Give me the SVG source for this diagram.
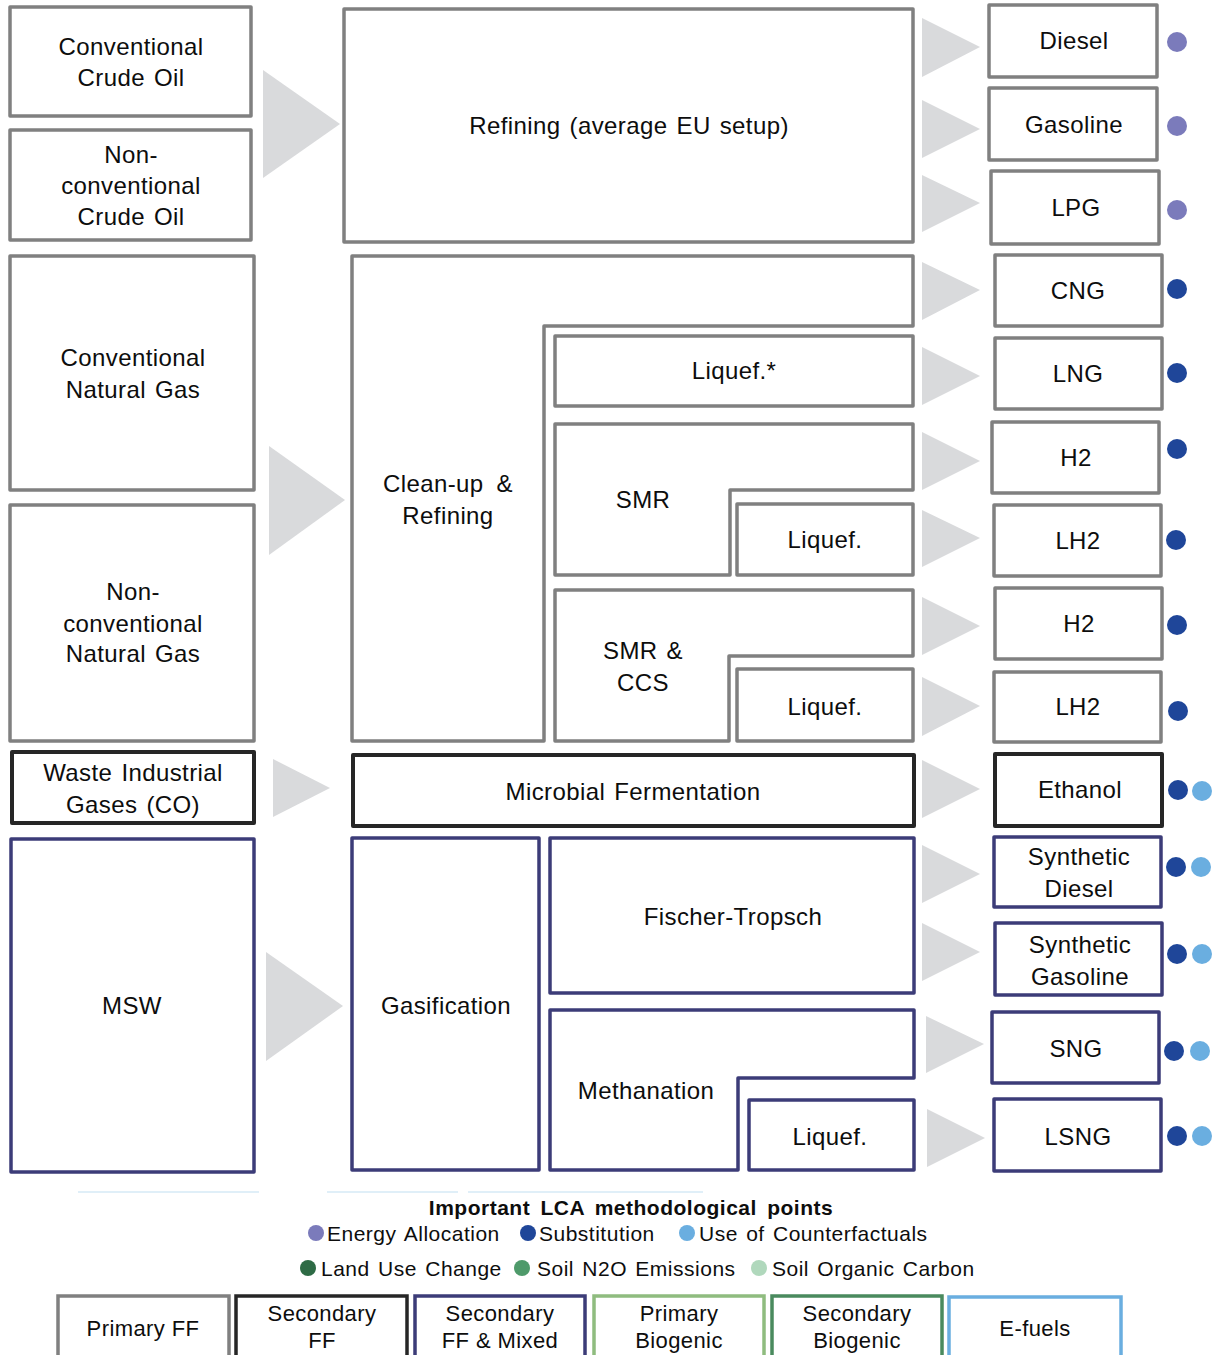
<svg xmlns="http://www.w3.org/2000/svg" width="1218" height="1355" viewBox="0 0 1218 1355">
<style>
text{font-family:"Liberation Sans",Arial,sans-serif;font-size:24px;fill:#0d0d0d;text-anchor:middle;letter-spacing:0.4px;word-spacing:2px}
.g{fill:#fff;stroke:#808080;stroke-width:3.5;stroke-linejoin:round}
.k{fill:#fff;stroke:#262626;stroke-width:4;stroke-linejoin:round}
.n{fill:#fff;stroke:#3c3c78;stroke-width:3.5;stroke-linejoin:round}
.tri{fill:#d9dadc}
.lg{font-size:21px;text-anchor:start;letter-spacing:0.5px;word-spacing:2px}
.lb{font-size:22px;word-spacing:0}
.pu{fill:#7b7bbb}.db{fill:#1f4699}.lb2{fill:#6aaee0}
</style>
<g id="connectors">
<polygon class="tri" points="263,70 340,124 263,178"/>
<polygon class="tri" points="269,446 345,500 269,555"/>
<polygon class="tri" points="273,759 330,788 273,817"/>
<polygon class="tri" points="266,952 343,1006 266,1061"/>
<polygon class="tri" points="922,18 980,47 922,77"/>
<polygon class="tri" points="922,100 980,129 922,158"/>
<polygon class="tri" points="922,175 980,203 922,232"/>
<polygon class="tri" points="922,262 980,290 922,320"/>
<polygon class="tri" points="922,347 980,376 922,405"/>
<polygon class="tri" points="922,432 980,461 922,490"/>
<polygon class="tri" points="922,510 980,538 922,567"/>
<polygon class="tri" points="922,597 980,626 922,655"/>
<polygon class="tri" points="922,677 980,706 922,736"/>
<polygon class="tri" points="922,760 980,789 922,818"/>
<polygon class="tri" points="922,845 980,874 922,903"/>
<polygon class="tri" points="922,923 980,952 922,981"/>
<polygon class="tri" points="926,1016 984,1044 926,1073"/>
<polygon class="tri" points="927,1109 985,1138 927,1167"/>
</g>
<g id="conv-crude"><rect class="g" x="10" y="7" width="241" height="109"/><text x="131" y="55">Conventional</text><text x="131" y="86">Crude Oil</text></g>
<g id="nonconv-crude"><rect class="g" x="10" y="130" width="241" height="110"/><text x="131" y="163">Non-</text><text x="131" y="194">conventional</text><text x="131" y="225">Crude Oil</text></g>
<g id="conv-gas"><rect class="g" x="10" y="256" width="244" height="234"/><text x="133" y="366">Conventional</text><text x="133" y="398">Natural Gas</text></g>
<g id="nonconv-gas"><rect class="g" x="10" y="505" width="244" height="236"/><text x="133" y="600">Non-</text><text x="133" y="632">conventional</text><text x="133" y="662">Natural Gas</text></g>
<g id="waste-gases"><rect class="k" x="12" y="752" width="242" height="71"/><text x="133" y="781">Waste Industrial</text><text x="133" y="813">Gases (CO)</text></g>
<g id="msw"><rect class="n" x="11" y="839" width="243" height="333"/><text x="132" y="1014">MSW</text></g>
<g id="refining"><rect class="g" x="344" y="9" width="569" height="233"/><text x="629" y="134">Refining (average EU setup)</text></g>
<g id="cleanup"><path class="g" d="M352,256 H913 V326 H544 V741 H352 Z"/><text x="448" y="492" style="word-spacing:6px">Clean-up &amp;</text><text x="448" y="524">Refining</text></g>
<g id="liquef-lng"><rect class="g" x="555" y="336" width="358" height="70"/><text x="734" y="379">Liquef.*</text></g>
<g id="smr"><path class="g" d="M555,424 H913 V490 H730 V575 H555 Z"/><text x="643" y="508">SMR</text></g>
<g id="liquef-smr"><rect class="g" x="737" y="504" width="176" height="71"/><text x="825" y="548">Liquef.</text></g>
<g id="smr-ccs"><path class="g" d="M555,590 H913 V656 H729 V741 H555 Z"/><text x="643" y="659">SMR &amp;</text><text x="643" y="691">CCS</text></g>
<g id="liquef-ccs"><rect class="g" x="737" y="669" width="176" height="72"/><text x="825" y="715">Liquef.</text></g>
<g id="fermentation"><rect class="k" x="353" y="755" width="561" height="71"/><text x="633" y="800">Microbial Fermentation</text></g>
<g id="gasification"><rect class="n" x="352" y="838" width="187" height="332"/><text x="446" y="1014">Gasification</text></g>
<g id="fischer-tropsch"><rect class="n" x="550" y="838" width="364" height="155"/><text x="733" y="925">Fischer-Tropsch</text></g>
<g id="methanation"><path class="n" d="M550,1010 H914 V1078 H738 V1170 H550 Z"/><text x="646" y="1099">Methanation</text></g>
<g id="liquef-sng"><rect class="n" x="749" y="1100" width="165" height="70"/><text x="830" y="1145">Liquef.</text></g>
<g id="diesel"><rect class="g" x="989" y="5" width="168" height="72"/><text x="1074" y="49">Diesel</text><circle class="pu" cx="1177" cy="42" r="10"/></g>
<g id="gasoline"><rect class="g" x="989" y="88" width="168" height="72"/><text x="1074" y="133">Gasoline</text><circle class="pu" cx="1177" cy="126" r="10"/></g>
<g id="lpg"><rect class="g" x="991" y="171" width="168" height="73"/><text x="1076" y="216">LPG</text><circle class="pu" cx="1177" cy="210" r="10"/></g>
<g id="cng"><rect class="g" x="995" y="255" width="167" height="71"/><text x="1078" y="299">CNG</text><circle class="db" cx="1177" cy="289" r="10"/></g>
<g id="lng"><rect class="g" x="995" y="338" width="167" height="71"/><text x="1078" y="382">LNG</text><circle class="db" cx="1177" cy="373" r="10"/></g>
<g id="h2-smr"><rect class="g" x="992" y="422" width="167" height="71"/><text x="1076" y="466">H2</text><circle class="db" cx="1177" cy="449" r="10"/></g>
<g id="lh2-smr"><rect class="g" x="994" y="505" width="167" height="71"/><text x="1078" y="549">LH2</text><circle class="db" cx="1176" cy="540" r="10"/></g>
<g id="h2-ccs"><rect class="g" x="995" y="588" width="167" height="71"/><text x="1079" y="632">H2</text><circle class="db" cx="1177" cy="625" r="10"/></g>
<g id="lh2-ccs"><rect class="g" x="994" y="672" width="167" height="70"/><text x="1078" y="715">LH2</text><circle class="db" cx="1178" cy="711" r="10"/></g>
<g id="ethanol"><rect class="k" x="995" y="754" width="167" height="72"/><text x="1080" y="798">Ethanol</text><circle class="db" cx="1178" cy="790" r="10"/><circle class="lb2" cx="1202" cy="791" r="10"/></g>
<g id="syn-diesel"><rect class="n" x="994" y="837" width="167" height="70"/><text x="1079" y="865">Synthetic</text><text x="1079" y="897">Diesel</text><circle class="db" cx="1176" cy="867" r="10"/><circle class="lb2" cx="1201" cy="867" r="10"/></g>
<g id="syn-gasoline"><rect class="n" x="995" y="923" width="167" height="72"/><text x="1080" y="953">Synthetic</text><text x="1080" y="985">Gasoline</text><circle class="db" cx="1177" cy="954" r="10"/><circle class="lb2" cx="1202" cy="954" r="10"/></g>
<g id="sng"><rect class="n" x="992" y="1012" width="167" height="71"/><text x="1076" y="1057">SNG</text><circle class="db" cx="1174" cy="1051" r="10"/><circle class="lb2" cx="1200" cy="1051" r="10"/></g>
<g id="lsng"><rect class="n" x="994" y="1099" width="167" height="72"/><text x="1078" y="1145">LSNG</text><circle class="db" cx="1177" cy="1136" r="10"/><circle class="lb2" cx="1202" cy="1136" r="10"/></g>
<g id="legend">
<g stroke="#d6eaf6" stroke-width="1.5"><line x1="78" y1="1192" x2="259" y2="1192"/><line x1="327" y1="1192" x2="458" y2="1192"/><line x1="468" y1="1192" x2="703" y2="1192"/></g>
<text x="631" y="1215" style="font-size:21px;font-weight:bold;letter-spacing:0.5px;word-spacing:4px">Important LCA methodological points</text>
<circle class="pu" cx="316" cy="1233" r="8"/><text class="lg" x="327" y="1241">Energy Allocation</text>
<circle class="db" cx="528" cy="1233" r="8"/><text class="lg" x="539" y="1241">Substitution</text>
<circle class="lb2" cx="687" cy="1233" r="8"/><text class="lg" x="699" y="1241">Use of Counterfactuals</text>
<circle cx="308" cy="1268" r="8" fill="#2e6b45"/><text class="lg" x="321" y="1276">Land Use Change</text>
<circle cx="522" cy="1268" r="8" fill="#4e9a6a"/><text class="lg" x="537" y="1276">Soil N2O Emissions</text>
<circle cx="759" cy="1268" r="8" fill="#b0d8bc"/><text class="lg" x="772" y="1276">Soil Organic Carbon</text>
<rect x="58" y="1296" width="171" height="80" fill="#fff" stroke="#808080" stroke-width="3.5"/><text class="lb" x="143" y="1336">Primary FF</text>
<rect x="236" y="1296" width="171" height="80" fill="#fff" stroke="#262626" stroke-width="3.5"/><text class="lb" x="322" y="1321">Secondary</text><text class="lb" x="322" y="1348">FF</text>
<rect x="415" y="1296" width="170" height="80" fill="#fff" stroke="#3c3c78" stroke-width="3.5"/><text class="lb" x="500" y="1321">Secondary</text><text class="lb" x="500" y="1348">FF &amp; Mixed</text>
<rect x="594" y="1296" width="170" height="80" fill="#fff" stroke="#8fbc7f" stroke-width="3.5"/><text class="lb" x="679" y="1321">Primary</text><text class="lb" x="679" y="1348">Biogenic</text>
<rect x="772" y="1296" width="170" height="80" fill="#fff" stroke="#4a8a5e" stroke-width="3.5"/><text class="lb" x="857" y="1321">Secondary</text><text class="lb" x="857" y="1348">Biogenic</text>
<rect x="949" y="1297" width="172" height="80" fill="#fff" stroke="#6aaee0" stroke-width="3.5"/><text class="lb" x="1035" y="1336">E-fuels</text>
</g>
</svg>
